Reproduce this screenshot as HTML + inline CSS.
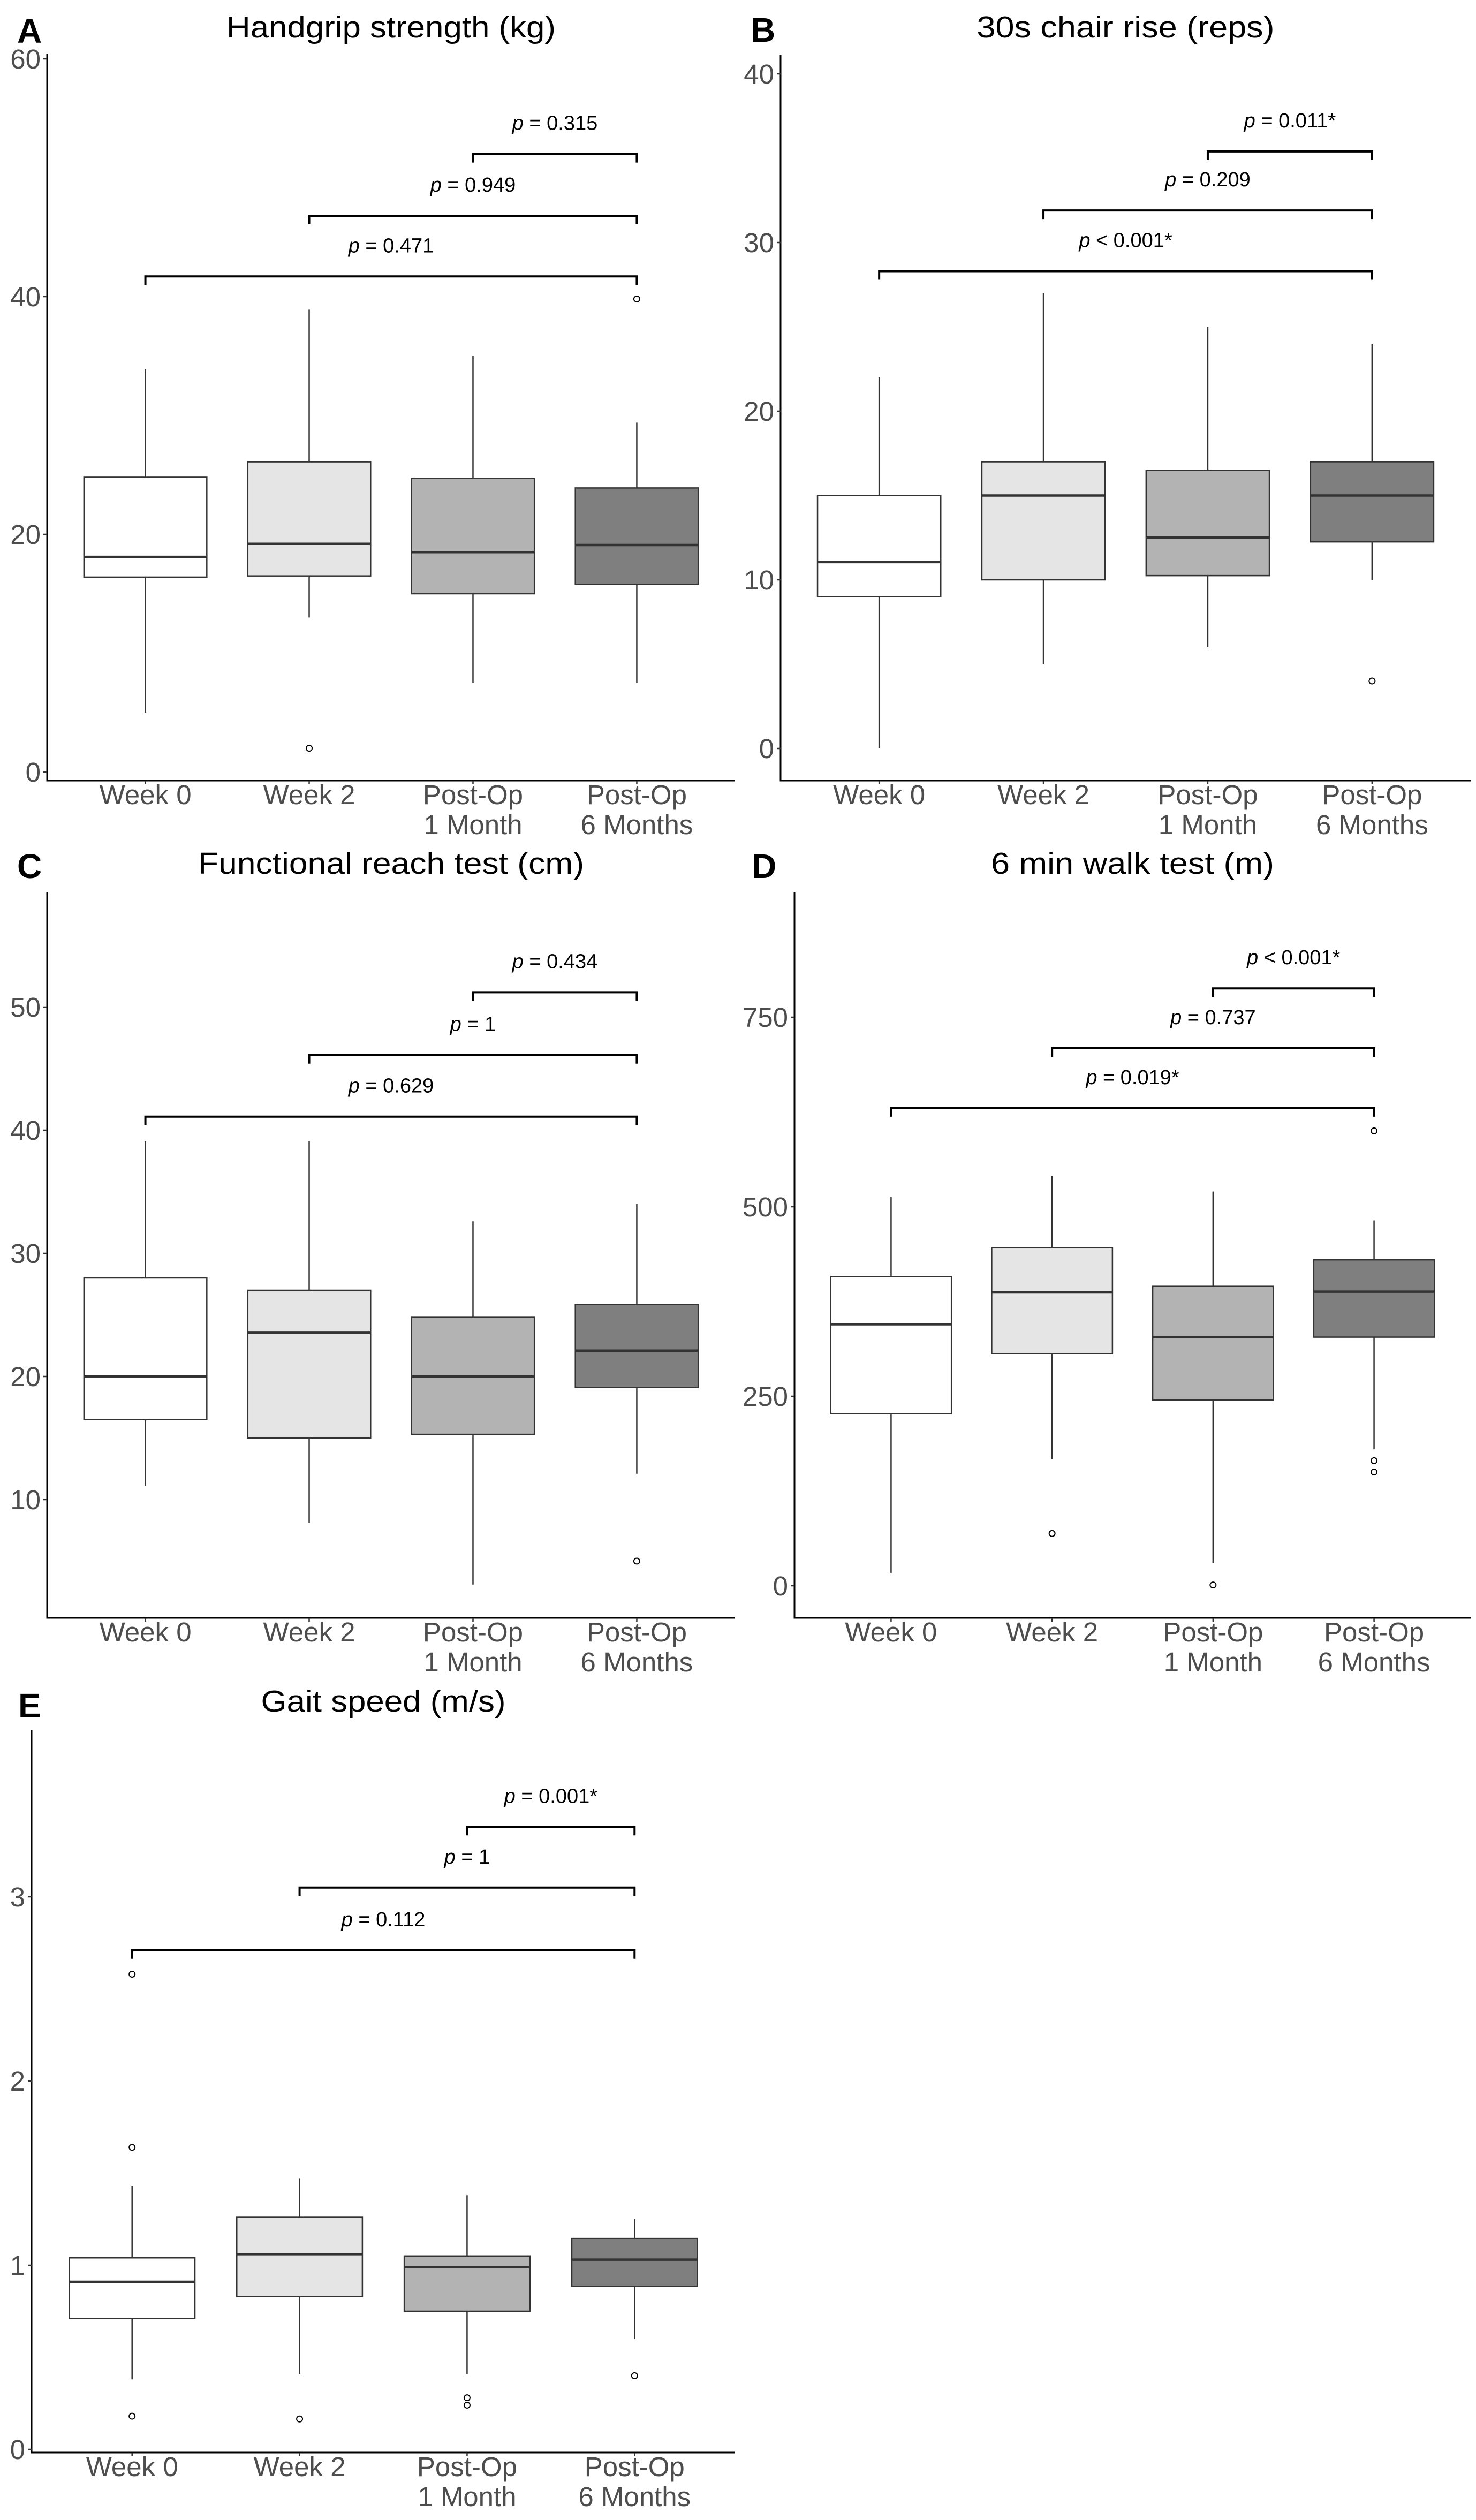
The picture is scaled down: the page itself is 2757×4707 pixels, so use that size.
<!DOCTYPE html>
<html><head><meta charset="utf-8"><style>
html,body{margin:0;padding:0;background:#fff;}
svg{display:block;font-family:"Liberation Sans",Arial,sans-serif;}
</style></head>
<body>
<svg id="fig" width="2757" height="4707" viewBox="0 0 2757 4707" xmlns="http://www.w3.org/2000/svg">
<rect x="0" y="0" width="2757" height="4707" fill="#fff"/>
</svg>
<script>
const categories = ["Week 0", "Week 2", "Post-Op\n1 Month", "Post-Op\n6 Months"];
const boxFills = ["#ffffff", "#e5e5e5", "#b3b3b3", "#7f7f7f"];
const bracketPairs = [[0,3],[1,3],[2,3]];

// Panel A: Handgrip strength (kg)
const aLow = [5.0, 13.0, 7.5, 7.5];
const aQ1 = [16.4, 16.5, 15.0, 15.8];
const aMed = [18.1, 19.2, 18.5, 19.1];
const aQ3 = [24.8, 26.1, 24.7, 23.9];
const aHigh = [33.9, 38.9, 35.0, 29.4];
const aOut = [[], [2.0], [], [39.8]];
const aTicks = [0, 20, 40, 60];
const aBracketY = [41.7, 46.8, 52.0];
const aBracketLabels = ["= 0.471", "= 0.949", "= 0.315"];

// Panel B: 30s chair rise (reps)
const bLow = [0, 5, 6, 10];
const bQ1 = [9, 10, 10.25, 12.25];
const bMed = [11.05, 15, 12.5, 15];
const bQ3 = [15, 17, 16.5, 17];
const bHigh = [22, 27, 25, 24];
const bOut = [[], [], [], [4]];
const bTicks = [0, 10, 20, 30, 40];
const bBracketY = [28.3, 31.9, 35.4];
const bBracketLabels = ["< 0.001*", "= 0.209", "= 0.011*"];

// Panel C: Functional reach test (cm)
const cLow = [11.1, 8.1, 3.1, 12.1];
const cQ1 = [16.5, 15.0, 15.3, 19.1];
const cMed = [20.0, 23.55, 20.0, 22.1];
const cQ3 = [28.0, 27.0, 24.8, 25.85];
const cHigh = [39.1, 39.1, 32.6, 34.0];
const cOut = [[], [], [], [5.0]];
const cTicks = [10, 20, 30, 40, 50];
const cBracketY = [41.1, 46.1, 51.2];
const cBracketLabels = ["= 0.629", "= 1", "= 0.434"];

// Panel D: 6 min walk test (m)
const dLow = [17, 167, 30, 180];
const dQ1 = [227, 306, 245, 328];
const dMed = [345, 387, 328, 388];
const dQ3 = [408, 446, 395, 430];
const dHigh = [513, 541, 520, 482];
const dOut = [[], [69], [1], [600, 165, 150]];
const dTicks = [0, 250, 500, 750];
const dBracketY = [630, 709, 788];
const dBracketLabels = ["= 0.019*", "= 0.737", "< 0.001*"];

// Panel E: Gait speed (m/s)
const eLow = [0.38, 0.41, 0.41, 0.60];
const eQ1 = [0.71, 0.83, 0.75, 0.885];
const eMed = [0.91, 1.06, 0.99, 1.03];
const eQ3 = [1.04, 1.26, 1.05, 1.145];
const eHigh = [1.43, 1.47, 1.38, 1.25];
const eOut = [[0.18, 1.64, 2.58], [0.165], [0.28, 0.24], [0.40]];
const eTicks = [0, 1, 2, 3];
const eBracketY = [2.71, 3.05, 3.38];
const eBracketLabels = ["= 0.112", "= 1", "= 0.001*"];

const NS = "http://www.w3.org/2000/svg";
const svg = document.getElementById("fig");
function mk(tag, attrs, parent) {
  const el = document.createElementNS(NS, tag);
  for (const k in attrs) el.setAttribute(k, attrs[k]);
  (parent || svg).appendChild(el);
  return el;
}

function drawPanel(p) {
  const g = mk("g", {});
  
  
  const W = p.right - p.axisX;
  const xS = i => p.axisX + (i + 0.6) / 4.2 * W;
  const yS = v => p.zeroY - v * p.pxPerUnit;
  const bw = 0.75 * W / 4.2;

  const letter = mk("text", {x: p.letterX, y: p.letterY, "font-size": 64, "font-weight": "bold", fill: "#000"}, g);
  letter.textContent = p.id.toUpperCase();
  
  

  const t = mk("text", {x: (p.axisX + p.right) / 2, y: p.titleY, "font-size": 57, "text-anchor": "middle", fill: "#000", textLength: p.titleW, lengthAdjust: "spacingAndGlyphs"}, g);
  t.textContent = p.title;
  
  

  const ya = mk("line", {x1: p.axisX, y1: p.top, x2: p.axisX, y2: p.bottom, stroke: "#000", "stroke-width": 3}, g);
  
  
  const xa = mk("line", {x1: p.axisX - 1.5, y1: p.bottom, x2: p.right, y2: p.bottom, stroke: "#000", "stroke-width": 3}, g);
  
  

  p.ticks.forEach(v => {
    const y = yS(v);
    const tk = mk("line", {x1: p.axisX - 7, y1: y, x2: p.axisX, y2: y, stroke: "#333", "stroke-width": 2.5}, g);
    
    
    const tl = mk("text", {x: p.axisX - 12, y: y + 18, "font-size": 51, "text-anchor": "end", fill: "#4d4d4d"}, g);
    tl.textContent = String(v);
    
    
  });

  categories.forEach((c, i) => {
    const x = xS(i);
    const tk = mk("line", {x1: x, y1: p.bottom, x2: x, y2: p.bottom + 7, stroke: "#333", "stroke-width": 2.5}, g);
    
    
    const tl = mk("text", {x: x, y: p.bottom + 44, "font-size": 51, "text-anchor": "middle", fill: "#4d4d4d"}, g);
    
    
    c.split("\n").forEach((line, li) => {
      const ts = mk("tspan", {x: x, dy: li === 0 ? 0 : 56}, tl);
      ts.textContent = line;
    });
  });

  for (let i = 0; i < 4; i++) {
    const x = xS(i);
    const bg = mk("g", {}, g);
    
    
    const w1 = mk("line", {x1: x, y1: yS(p.low[i]), x2: x, y2: yS(p.q1[i]), stroke: "#333", "stroke-width": 2.5}, bg);
    
    
    const w2 = mk("line", {x1: x, y1: yS(p.q3[i]), x2: x, y2: yS(p.high[i]), stroke: "#333", "stroke-width": 2.5}, bg);
    
    
    const r = mk("rect", {x: x - bw / 2, y: yS(p.q3[i]), width: bw, height: yS(p.q1[i]) - yS(p.q3[i]), fill: boxFills[i], stroke: "#333", "stroke-width": 2.5}, bg);
    
    
    const m = mk("line", {x1: x - bw / 2, y1: yS(p.med[i]), x2: x + bw / 2, y2: yS(p.med[i]), stroke: "#333", "stroke-width": 4.5}, bg);
    
    
    p.out[i].forEach(v => {
      const o = mk("circle", {cx: x, cy: yS(v), r: 5.5, fill: "none", stroke: "#000", "stroke-width": 2}, bg);
      
      
    });
  }

  bracketPairs.forEach((pr, k) => {
    const y = yS(p.bY[k]);
    const xa1 = xS(pr[0]), xb1 = xS(pr[1]);
    const br = mk("path", {d: `M${xa1},${y + 16} L${xa1},${y} L${xb1},${y} L${xb1},${y + 16}`, fill: "none", stroke: "#000", "stroke-width": 4}, g);
    
    
    const tx = mk("text", {x: (xa1 + xb1) / 2, y: y - 45, "font-size": 38, "text-anchor": "middle", fill: "#000"}, g);
    
    
    const t1 = mk("tspan", {"font-style": "italic"}, tx);
    t1.textContent = "p ";
    const t2 = mk("tspan", {}, tx);
    t2.textContent = p.bL[k];
  });
}

drawPanel({id: "a", title: "Handgrip strength (kg)", titleW: 615, titleY: 70, letterX: 32, letterY: 80,
  axisX: 88, right: 1373, top: 101, bottom: 1458, zeroY: 1442, pxPerUnit: 22.2,
  ticks: aTicks, low: aLow, q1: aQ1, med: aMed, q3: aQ3, high: aHigh, out: aOut, bY: aBracketY, bL: aBracketLabels});
drawPanel({id: "b", title: "30s chair rise (reps)", titleW: 556, titleY: 70, letterX: 1402, letterY: 78,
  axisX: 1458, right: 2747, top: 103, bottom: 1458, zeroY: 1398, pxPerUnit: 31.5,
  ticks: bTicks, low: bLow, q1: bQ1, med: bMed, q3: bQ3, high: bHigh, out: bOut, bY: bBracketY, bL: bBracketLabels});
drawPanel({id: "c", title: "Functional reach test (cm)", titleW: 721, titleY: 1632, letterX: 32, letterY: 1640,
  axisX: 88, right: 1373, top: 1667, bottom: 3022, zeroY: 3031, pxPerUnit: 23.0,
  ticks: cTicks, low: cLow, q1: cQ1, med: cMed, q3: cQ3, high: cHigh, out: cOut, bY: cBracketY, bL: cBracketLabels});
drawPanel({id: "d", title: "6 min walk test (m)", titleW: 529, titleY: 1632, letterX: 1404, letterY: 1640,
  axisX: 1484, right: 2747, top: 1667, bottom: 3022, zeroY: 2962, pxPerUnit: 1.416,
  ticks: dTicks, low: dLow, q1: dQ1, med: dMed, q3: dQ3, high: dHigh, out: dOut, bY: dBracketY, bL: dBracketLabels});
drawPanel({id: "e", title: "Gait speed (m/s)", titleW: 457, titleY: 3197, letterX: 34, letterY: 3208,
  axisX: 59, right: 1373, top: 3232, bottom: 4581, zeroY: 4575, pxPerUnit: 344,
  ticks: eTicks, low: eLow, q1: eQ1, med: eMed, q3: eQ3, high: eHigh, out: eOut, bY: eBracketY, bL: eBracketLabels});
</script>
</body></html>
